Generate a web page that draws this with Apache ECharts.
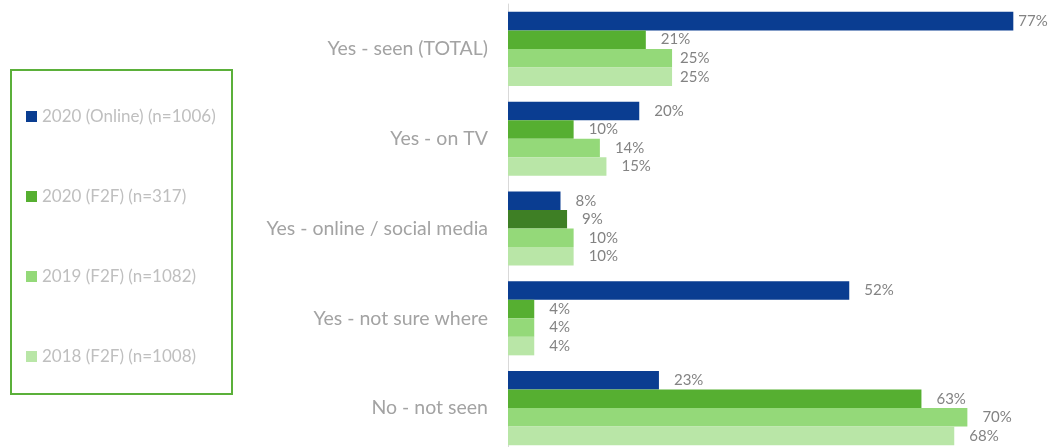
<!DOCTYPE html>
<html>
<head>
<meta charset="utf-8">
<script src="https://cdn.jsdelivr.net/npm/echarts@6/dist/echarts.min.js"></script>
<style>
  html, body { margin: 0; padding: 0; background: #fff; }
  #chart { width: 1060px; height: 447px; }
</style>
</head>
<body>
<div id="chart"></div>
<script>
// Survey responses: where the campaign was seen, by survey wave
const categories = [
  'Yes - seen (TOTAL)',
  'Yes - on TV',
  'Yes - online / social media',
  'Yes - not sure where',
  'No - not seen'
];
const seriesNames = [
  '2020 (Online) (n=1006)',
  '2020 (F2F) (n=317)',
  '2019 (F2F) (n=1082)',
  '2018 (F2F) (n=1008)'
];
const online2020 = [77, 20, 8, 52, 23];
const f2f2020 = [21, 10, 9, 4, 63];
const f2f2019 = [25, 14, 10, 4, 70];
const f2f2018 = [25, 15, 10, 4, 68];

const colors = ['#0A3D91', '#56AF31', '#94D979', '#B9E6A7'];
const highlightColor = '#3E7F25'; // 2020 F2F, online / social media

const seriesValues = [online2020, f2f2020, f2f2019, f2f2018];

const FONT = 'Lato, "Open Sans", sans-serif';

// labels sit closer to the bar where space is tight
function labelDistance(si, ci) {
  if (si === 0 && ci === 0) return 5;
  if ((si === 2 || si === 3) && ci === 0) return 8;
  return 15;
}

const chart = echarts.init(document.getElementById('chart'), null, { renderer: 'canvas' });

const series = seriesValues.map((vals, si) => ({
  name: seriesNames[si],
  type: 'bar',
  barGap: '0%',
  barCategoryGap: '17.5%',
  itemStyle: { color: colors[si] },
  data: vals.map((v, ci) => {
    const item = { value: v, label: { distance: labelDistance(si, ci) } };
    if (si === 1 && ci === 2) item.itemStyle = { color: highlightColor };
    return item;
  }),
  label: {
    show: true,
    position: 'right',
    formatter: p => p.value + '%',
    color: '#838383',
    fontFamily: FONT,
    fontSize: 15
  }
}));

chart.setOption({
  animation: false,
  color: colors,
  grid: {
    left: 508, top: 4, width: 525, height: 449,
    containLabel: false,
    outerBoundsMode: 'none'
  },
  xAxis: {
    type: 'value',
    min: 0,
    max: 80,
    show: false
  },
  yAxis: {
    type: 'category',
    data: categories,
    inverse: true,
    axisLine: { show: true, lineStyle: { color: '#D9D9D9', width: 1 } },
    axisTick: { show: false },
    axisLabel: {
      margin: 20,
      color: '#A3A3A3',
      fontFamily: FONT,
      fontSize: 19.5
    }
  },
  legend: {
    orient: 'vertical',
    left: 21,
    top: 103,
    itemWidth: 11,
    itemHeight: 11,
    itemGap: 63,
    icon: 'rect',
    data: seriesNames,
    textStyle: {
      color: '#BFBFBF',
      fontFamily: FONT,
      fontSize: 17
    }
  },
  graphic: [{
    type: 'rect',
    shape: { x: 11, y: 70, width: 221, height: 324 },
    style: { fill: 'none', stroke: '#5BB03A', lineWidth: 2 },
    silent: true
  }],
  series: series
});
</script>
</body>
</html>
